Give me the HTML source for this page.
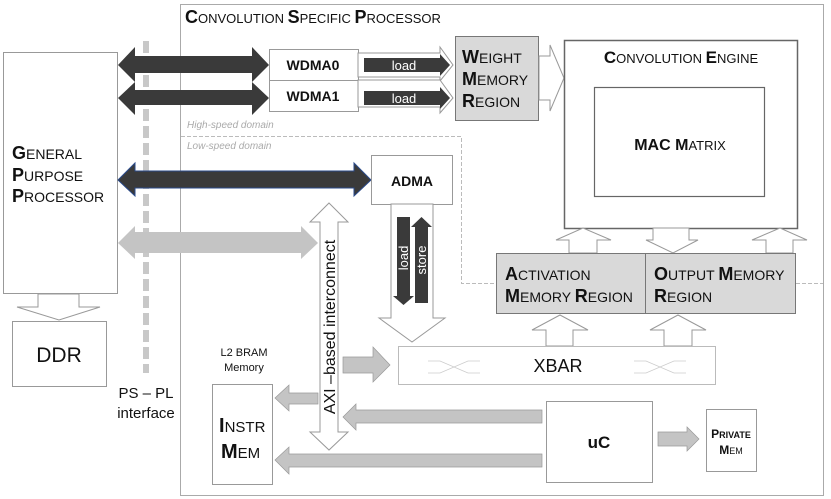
<!DOCTYPE html>
<html><head><meta charset="utf-8"><style>
html,body{margin:0;padding:0;background:#fff;}
svg{display:block;font-family:"Liberation Sans",Arial,sans-serif;}
</style></head><body>
<svg width="831" height="499" viewBox="0 0 831 499" xmlns="http://www.w3.org/2000/svg">
<rect x="180.5" y="4.5" width="643" height="491" fill="#fff" stroke="#aaa" stroke-width="1"/>
<text x="185" y="23" font-size="13" fill="#111"><tspan font-size="18" font-weight="bold">C</tspan>ONVOLUTION <tspan font-size="18" font-weight="bold">S</tspan>PECIFIC <tspan font-size="18" font-weight="bold">P</tspan>ROCESSOR</text>

<polyline points="181,136.5 461.5,136.5 461.5,283.5 823,283.5" fill="none" stroke="#bbb" stroke-width="1" stroke-dasharray="4,2"/>
<text x="187" y="128" font-size="10" font-style="italic" fill="#aaa">High-speed domain</text>
<text x="187" y="149" font-size="10" font-style="italic" fill="#aaa">Low-speed domain</text>

<rect x="3.5" y="52.5" width="114" height="241" fill="#fff" stroke="#999"/>
<text x="12" y="159" font-size="14" fill="#111"><tspan font-size="18" font-weight="bold">G</tspan>ENERAL</text>
<text x="12" y="181" font-size="14" fill="#111"><tspan font-size="18" font-weight="bold">P</tspan>URPOSE</text>
<text x="12" y="202" font-size="14" fill="#111"><tspan font-size="18" font-weight="bold">P</tspan>ROCESSOR</text>
<polygon points="38,294 79,294 79,307 100,307 59,320 17,307 38,307" fill="#fff" stroke="#999"/>
<rect x="12.5" y="321.5" width="94" height="65" fill="#fff" stroke="#999"/>
<text x="59" y="362" font-size="21" text-anchor="middle" fill="#111">DDR</text>

<line x1="146" y1="41" x2="146" y2="373" stroke="#c8c8c8" stroke-width="6" stroke-dasharray="12,5"/>
<text x="146" y="398" font-size="15" text-anchor="middle" fill="#111">PS – PL</text>
<text x="146" y="418" font-size="15" text-anchor="middle" fill="#111">interface</text>

<polygon points="118,65 135,47 135,56 252,56 252,47 269,65 252,82 252,73 135,73 135,82" fill="#3a3a3a"/>
<polygon points="118,98 135,82 135,90 252,90 252,82 269,98 252,115 252,105 135,105 135,115" fill="#3a3a3a"/>
<polygon points="118,180 135,163 135,171 354,171 354,163 371,180 354,196 354,188 135,188 135,196" fill="#3a3a3a" stroke="#2a4a8a" stroke-width="1"/>
<polygon points="118,243 135,226 135,232 301,232 301,226 318,243 301,259 301,253 135,253 135,259" fill="#c4c4c4"/>

<rect x="269.5" y="49.5" width="89" height="31" fill="#fff" stroke="#999"/>
<rect x="269.5" y="80.5" width="89" height="31" fill="#fff" stroke="#999"/>
<text x="313" y="70" font-size="14" font-weight="bold" text-anchor="middle" fill="#111">WDMA0</text>
<text x="313" y="101" font-size="14" font-weight="bold" text-anchor="middle" fill="#111">WDMA1</text>
<polygon points="358,53 440,53 440,47 453,65 440,81 440,77 358,77" fill="#fff" stroke="#999"/>
<polygon points="358,80 440,80 440,80 453,98 440,113 440,107 358,107" fill="#fff" stroke="#999"/>
<polygon points="364,58 440,58 440,54 450,65 440,76 440,72 364,72" fill="#3a3a3a"/>
<polygon points="364,91 440,91 440,87 450,98 440,109 440,105 364,105" fill="#3a3a3a"/>
<text x="404" y="70" font-size="13" text-anchor="middle" fill="#fff">load</text>
<text x="404" y="103" font-size="13" text-anchor="middle" fill="#fff">load</text>

<rect x="455.5" y="36.5" width="83" height="84" fill="#d9d9d9" stroke="#777"/>
<text x="462" y="63" font-size="14" fill="#111"><tspan font-size="18" font-weight="bold">W</tspan>EIGHT</text>
<text x="462" y="85" font-size="14" fill="#111"><tspan font-size="18" font-weight="bold">M</tspan>EMORY</text>
<text x="462" y="107" font-size="14" fill="#111"><tspan font-size="18" font-weight="bold">R</tspan>EGION</text>
<polygon points="539,56 550,56 550,45 564,78 550,111 550,100 539,100" fill="#fff" stroke="#999"/>

<rect x="564.5" y="40.5" width="233" height="188" fill="#fff" stroke="#666" stroke-width="1.5"/>
<text x="681" y="63" font-size="13" text-anchor="middle" fill="#111"><tspan font-size="17" font-weight="bold">C</tspan>ONVOLUTION <tspan font-size="17" font-weight="bold">E</tspan>NGINE</text>
<rect x="594.5" y="87.5" width="170" height="109" fill="#fff" stroke="#666" stroke-width="1.2"/>
<text x="680" y="150" font-size="13" text-anchor="middle" fill="#111"><tspan font-size="16" font-weight="bold">MAC M</tspan>ATRIX</text>

<polygon points="569,253 569,240 556,240 583,228 611,240 597,240 597,253" fill="#fff" stroke="#999"/>
<polygon points="653,228 689,228 689,240 698,240 673,253 646,240 653,240" fill="#fff" stroke="#999"/>
<polygon points="766,253 766,240 752,240 780,228 807,240 793,240 793,253" fill="#fff" stroke="#999"/>

<rect x="496.5" y="253.5" width="149" height="60" fill="#d9d9d9" stroke="#777"/>
<rect x="645.5" y="253.5" width="150" height="60" fill="#d9d9d9" stroke="#777"/>
<text x="505" y="280" font-size="14" fill="#111"><tspan font-size="18" font-weight="bold">A</tspan>CTIVATION</text>
<text x="505" y="302" font-size="14" fill="#111"><tspan font-size="18" font-weight="bold">M</tspan>EMORY <tspan font-size="18" font-weight="bold">R</tspan>EGION</text>
<text x="654" y="280" font-size="14" fill="#111"><tspan font-size="18" font-weight="bold">O</tspan>UTPUT <tspan font-size="18" font-weight="bold">M</tspan>EMORY</text>
<text x="654" y="302" font-size="14" fill="#111"><tspan font-size="18" font-weight="bold">R</tspan>EGION</text>

<polygon points="546,346 546,330 532,330 560,315 588,330 573,330 573,346" fill="#fff" stroke="#999"/>
<polygon points="664,346 664,330 650,330 678,315 706,330 692,330 692,346" fill="#fff" stroke="#999"/>

<rect x="371.5" y="155.5" width="81" height="49" fill="#fff" stroke="#999"/>
<text x="412" y="186" font-size="14" font-weight="bold" text-anchor="middle" fill="#111">ADMA</text>
<polygon points="391,204 433,204 433,318 445,318 412,342 379,318 391,318" fill="#fff" stroke="#999"/>
<polygon points="397,217 410,217 410,296 414,296 403.5,305 393,296 397,296" fill="#3a3a3a"/>
<polygon points="421.5,217 432,227 428,227 428,303 415,303 415,227 411,227" fill="#3a3a3a"/>
<text transform="translate(408,258) rotate(-90)" font-size="13" text-anchor="middle" fill="#fff">load</text>
<text transform="translate(426,260) rotate(-90)" font-size="13" text-anchor="middle" fill="#fff">store</text>

<polygon points="329,203 348,222 338,222 338,432 348,432 329,450 310,432 320,432 320,222 310,222" fill="#fff" stroke="#999"/>
<text transform="translate(335,327) rotate(-90)" font-size="16" text-anchor="middle" fill="#111">AXI –based interconnect</text>

<polygon points="343,357 373,357 373,347 390,365 373,382 373,373 343,373" fill="#c4c4c4" stroke="#999" stroke-width="0.7"/>
<rect x="398.5" y="346.5" width="317" height="38" fill="#fff" stroke="#bbb"/>
<text x="558" y="372" font-size="18" text-anchor="middle" fill="#111">XBAR</text>
<path d="M428,361 H440 L468,373 H480 M428,373 H440 L468,361 H480" fill="none" stroke="#ccc" stroke-width="0.8"/>
<path d="M634,361 H646 L674,373 H686 M634,373 H646 L674,361 H686" fill="none" stroke="#ccc" stroke-width="0.8"/>

<text x="244" y="356" font-size="11" text-anchor="middle" fill="#111">L2 BRAM</text>
<text x="244" y="371" font-size="11" text-anchor="middle" fill="#111">Memory</text>
<rect x="212.5" y="384.5" width="60" height="100" fill="#fff" stroke="#999"/>
<text x="219" y="432" font-size="15" fill="#111"><tspan font-size="20" font-weight="bold">I</tspan>NSTR</text>
<text x="221" y="458" font-size="15" fill="#111"><tspan font-size="20" font-weight="bold">M</tspan>EM</text>

<polygon points="318,393 289,393 289,385 275,398 289,411 289,404 318,404" fill="#c4c4c4" stroke="#999" stroke-width="0.7"/>
<polygon points="542,410 356,410 356,404 343,417 356,430 356,423 542,423" fill="#c4c4c4" stroke="#999" stroke-width="0.7"/>
<polygon points="542,454 289,454 289,447 275,460 289,474 289,467 542,467" fill="#c4c4c4" stroke="#999" stroke-width="0.7"/>

<rect x="546.5" y="401.5" width="106" height="81" fill="#fff" stroke="#999"/>
<text x="599" y="448" font-size="17" font-weight="bold" text-anchor="middle" fill="#111">uC</text>
<polygon points="658,432 687,432 687,427 699,439 687,451 687,446 658,446" fill="#c4c4c4" stroke="#999" stroke-width="0.7"/>
<rect x="706.5" y="409.5" width="50" height="62" fill="#fff" stroke="#999"/>
<text x="731" y="438" font-size="9" font-weight="bold" text-anchor="middle" fill="#111"><tspan font-size="12">P</tspan>RIVATE</text>
<text x="731" y="454" font-size="9" text-anchor="middle" fill="#111"><tspan font-size="12" font-weight="bold">M</tspan>EM</text>
</svg>
</body></html>
